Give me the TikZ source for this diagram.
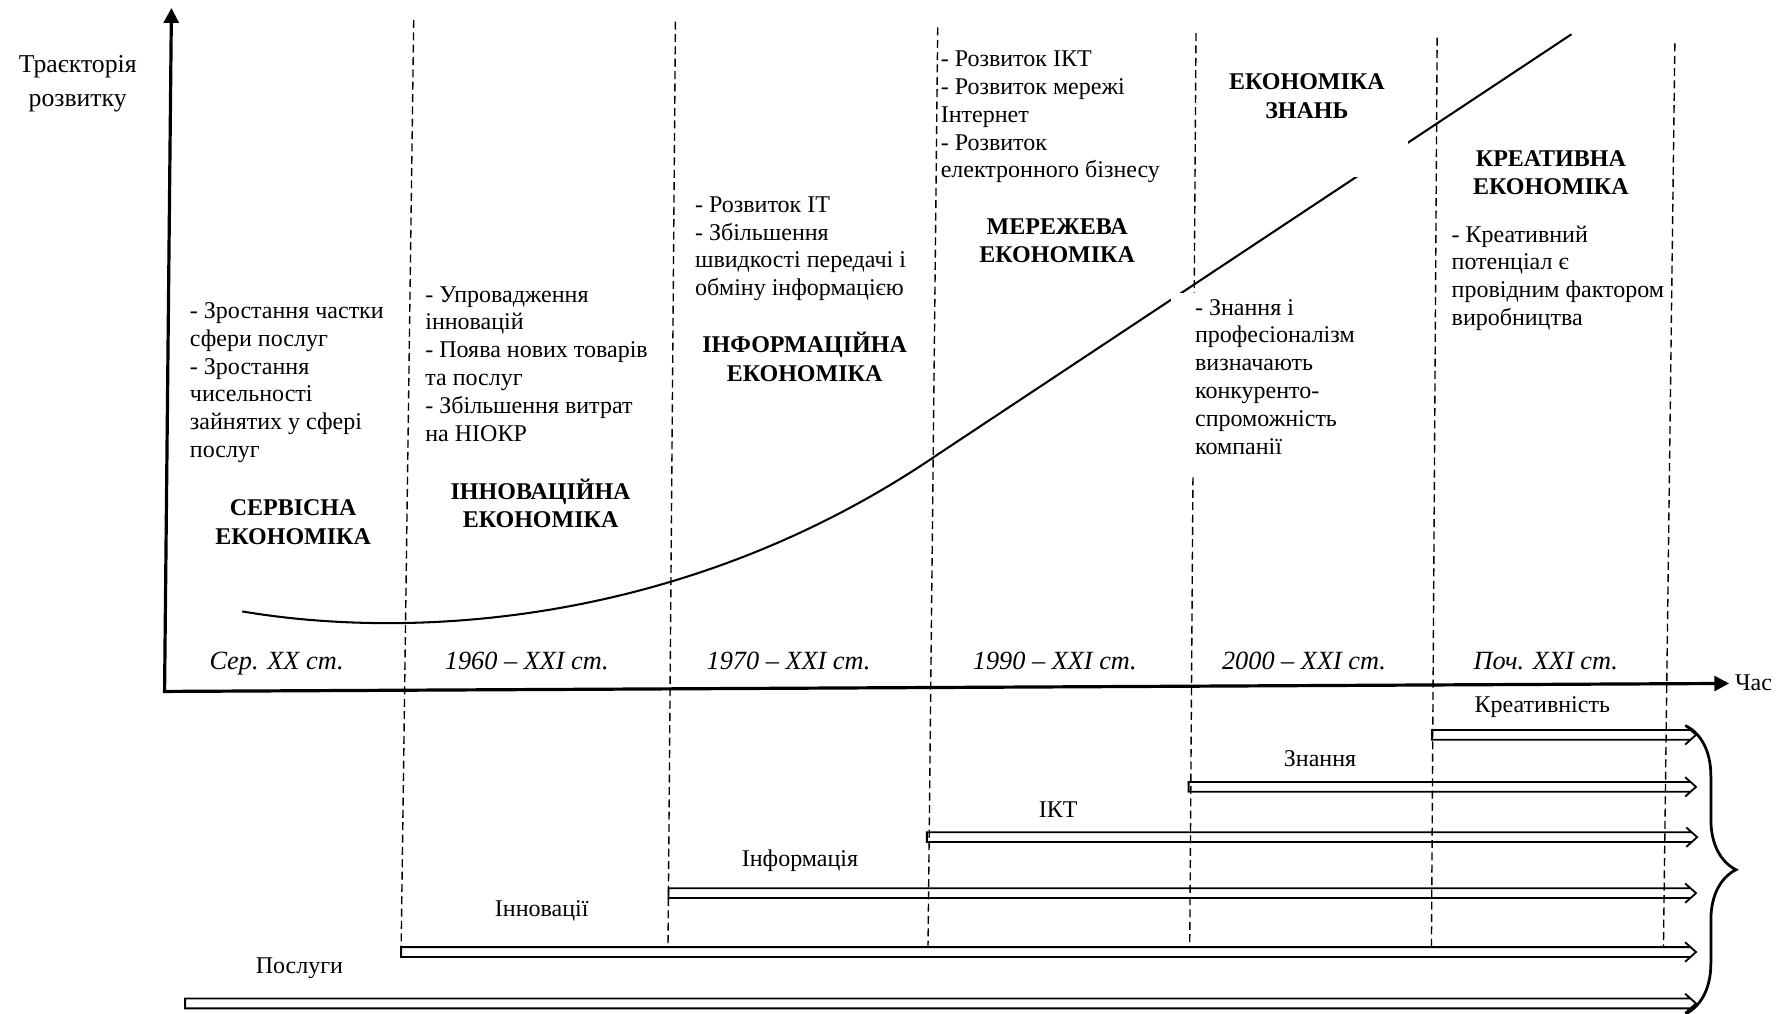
\documentclass[tikz,border=0pt]{standalone}
\usepackage{fontspec}
\setmainfont{Liberation Serif}
\usetikzlibrary{arrows.meta,calc,decorations.pathreplacing}

\begin{document}
\begin{tikzpicture}[x=1pt,y=-1pt,
  axis/.style={line width=2.8pt,line join=miter,
    {Triangle[length=13pt,width=13pt]}-{Triangle[length=13pt,width=13pt]}},
  eraline/.style={line width=1.2pt,dash pattern=on 7pt off 3.8pt},
  trend/.style={line width=1.8pt},
  mask/.style={fill=white},
  body/.style={font=\fontsize{21}{24.3}\selectfont,align=left,
    inner sep=0pt,anchor=north west},
  head/.style={font=\fontsize{21}{25}\selectfont\bfseries,align=center,
    inner sep=0pt,anchor=north},
  period/.style={font=\fontsize{23}{27}\selectfont\itshape,inner sep=0pt,
    anchor=base},
  flowlabel/.style={font=\fontsize{21}{24}\selectfont,inner sep=0pt,
    anchor=base},
  track/.style={line width=1.6pt,line join=miter,to path={
    ($(\tikztotarget)+(-5,-4.3)$) -- ($(\tikztostart)+(0,-4.3)$)
    -- ($(\tikztostart)+(0,4.3)$) -- ($(\tikztotarget)+(-5,4.3)$)
    ($(\tikztotarget)+(-9.5,-8.5)$) -- (\tikztotarget)
    -- ($(\tikztotarget)+(-9.5,8.5)$)}},
  bracket/.style={line width=2.4pt,decorate,
    decoration={brace,amplitude=44pt}}
]
\useasboundingbox (0,0) rectangle (1568,887);

% axes
\coordinate (O) at (144,605);
\coordinate (Ytop) at (150,7);
\coordinate (Xend) at (1513,598);
\draw[axis] (Ytop) -- (O) -- (Xend);
\node[font=\fontsize{22.5}{29.5}\selectfont,align=center,inner sep=0pt,
  anchor=north] (ylab) at (68,43) {\strut Траєкторія\\розвитку};
\node[font=\fontsize{21}{24}\selectfont,inner sep=0pt,anchor=base west]
  (xlab) at (1518,604) {Час};

% period boundaries
\foreach \n/\xt/\yt/\xb in {1/362/17.5/351, 2/591/19/584.5, 3/820.5/24/812,
    4/1046.5/29/1041, 5/1257.5/33/1252.5, 6/1465.5/38/1455.5}{
  \coordinate (t\n) at (\xt,\yt);
  \coordinate (b\n) at (\xb,829);
  \draw[eraline] (t\n) -- (b\n);
}

% development trajectory
\coordinate (cS) at (212,535);
\coordinate (cM) at (820,398);
\coordinate (cE) at (1375,30);
\draw[trend] (cS) .. controls (360,560) and (600,548) .. (cM) -- (cE);

% white backgrounds of the text frames
\fill[mask] (1025,256) rectangle (1240,416);
\fill[mask] (1059,59) rectangle (1232,155);

% descriptions
\node[body] (dServ) at (166,261.6) {\strut - Зростання частки\\сфери послуг\\- Зростання\\чисельності\\зайнятих у сфері\\послуг};
\node[body] (dInn) at (372,247.2) {\strut - Упровадження\\інновацій\\- Поява нових товарів\\та послуг\\- Збільшення витрат\\на НІОКР};
\node[body] (dInf) at (608,168.6) {\strut - Розвиток IT\\- Збільшення\\швидкості передачі і\\обміну інформацією};
\node[body] (dNet) at (823,41.2) {\strut - Розвиток ІКТ\\- Розвиток мережі\\Інтернет\\- Розвиток\\електронного бізнесу};
\node[body] (dKn) at (1045.5,258.6) {\strut - Знання і\\професіоналізм\\визначають\\конкуренто-\\спроможність\\компанії};
\node[body] (dCr) at (1270,194.6) {\strut - Креативний\\потенціал є\\провідним фактором\\виробництва};

% economy types
\node[head] (hServ) at (256.5,433.6) {\strut СЕРВІСНА\\ЕКОНОМІКА};
\node[head] (hInn) at (473,418.6) {\strut ІННОВАЦІЙНА\\ЕКОНОМІКА};
\node[head] (hInf) at (704,290.6) {\strut ІНФОРМАЦІЙНА\\ЕКОНОМІКА};
\node[head] (hNet) at (925,187.1) {\strut МЕРЕЖЕВА\\ЕКОНОМІКА};
\node[head] (hKn) at (1143.5,60.6) {\strut ЕКОНОМІКА\\ЗНАНЬ};
\node[head] (hCr) at (1357,127.6) {\strut КРЕАТИВНА\\ЕКОНОМІКА};

% periods
\node[period] (p1) at (242,586) {Сер. ХХ ст.};
\node[period] (p2) at (461,586) {1960 – ХХІ ст.};
\node[period] (p3) at (690,586) {1970 – ХХІ ст.};
\node[period] (p4) at (923,586) {1990 – ХХІ ст.};
\node[period] (p5) at (1141,586) {2000 – ХХІ ст.};
\node[period] (p6) at (1352.5,586) {Поч. ХХІ ст.};

% driving factors
\coordinate (crS) at (1253,643);   \coordinate (crE) at (1484,643);
\coordinate (knS) at (1040,688.5); \coordinate (knE) at (1484,688.5);
\coordinate (ictS) at (811,732.5); \coordinate (ictE) at (1485,732.5);
\coordinate (infS) at (585,781.5); \coordinate (infE) at (1484,781.5);
\coordinate (innS) at (351,833);   \coordinate (innE) at (1484,833);
\coordinate (srvS) at (162,878);   \coordinate (srvE) at (1484,878);
\draw[track] (crS) to (crE);
\draw[track] (knS) to (knE);
\draw[track] (ictS) to (ictE);
\draw[track] (infS) to (infE);
\draw[track] (innS) to (innE);
\draw[track] (srvS) to (srvE);

\node[flowlabel] (fCr) at (1349.5,623.6) {Креативність};
\node[flowlabel] (fKn) at (1155,671) {Знання};
\node[flowlabel] (fIct) at (926,715.5) {ІКТ};
\node[flowlabel] (fInf) at (700,758.5) {Інформація};
\node[flowlabel] (fInn) at (474,802) {Інновації};
\node[flowlabel] (fSrv) at (262,851.6) {Послуги};

% common bracket
\coordinate (brTop) at (1475,635);
\coordinate (brBot) at (1475,887);
\draw[bracket] (brTop) -- (brBot);
\end{tikzpicture}
\end{document}
